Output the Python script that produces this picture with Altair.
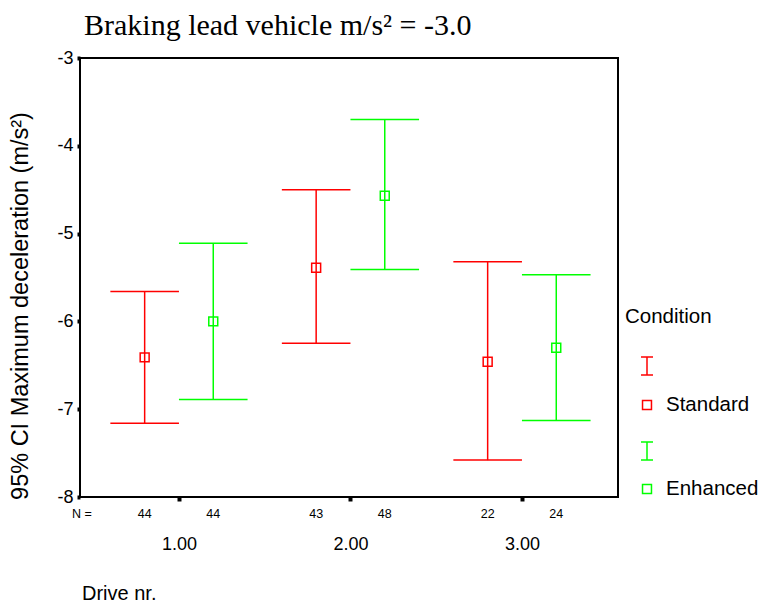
import altair as alt
import pandas as pd

# ---- data ----
drives = [1, 2, 3]
drive_labels = ["1.00", "2.00", "3.00"]
conditions = ["Standard", "Enhanced"]
colors = ["#ff0000", "#00ff00"]

std_mean = [-6.41, -5.39, -6.46]
std_low = [-7.16, -6.25, -7.58]
std_high = [-5.66, -4.50, -5.32]
std_n = [44, 43, 22]

enh_mean = [-6.00, -4.57, -6.30]
enh_low = [-6.89, -5.41, -7.13]
enh_high = [-5.11, -3.70, -5.47]
enh_n = [44, 48, 24]

y_ticks = [-8, -7, -6, -5, -4, -3]

# ---- build table ----
offset = {"Standard": -0.2, "Enhanced": 0.2}
half_cap = 0.2
rows = []
for cond, means, lows, highs, ns in [
    ("Standard", std_mean, std_low, std_high, std_n),
    ("Enhanced", enh_mean, enh_low, enh_high, enh_n),
]:
    for d, m, lo, hi, n in zip(drives, means, lows, highs, ns):
        xp = d + offset[cond]
        rows.append(dict(condition=cond, drive=d, mean=m, low=lo, high=hi,
                         n=str(n), xpos=xp, cl=xp - half_cap, cr=xp + half_cap))
df = pd.DataFrame(rows)

W, H = 538, 439
xscale = alt.Scale(domain=[0.423, 3.56], nice=False, zero=False)
yscale = alt.Scale(domain=[-8, -3], nice=False, zero=False)
cscale = alt.Scale(domain=conditions, range=colors)

base = alt.Chart(df)

x_axis = alt.Axis(values=drives, labelExpr="datum.value == 1 ? '1.00' : datum.value == 2 ? '2.00' : '3.00'",
                  title=None, grid=False, domain=False, tickColor="black", tickSize=4, tickWidth=4,
                  labelFontSize=18, labelFont="Liberation Sans", labelColor="black", labelPadding=34)
y_axis = alt.Axis(values=y_ticks, labelExpr="'' + datum.value", title=None, grid=False, domain=False,
                  tickColor="black", tickSize=3, tickWidth=4, labelFontSize=18,
                  labelFont="Liberation Sans", labelColor="black", labelPadding=4)

vbars = base.mark_rule(strokeWidth=1.5).encode(
    x=alt.X("xpos:Q", scale=xscale, axis=x_axis),
    y=alt.Y("low:Q", scale=yscale, axis=y_axis),
    y2="high:Q",
    color=alt.Color("condition:N", scale=cscale, legend=None),
)
cap_lo = base.mark_rule(strokeWidth=1.5).encode(
    x=alt.X("cl:Q", scale=xscale), x2="cr:Q",
    y=alt.Y("low:Q", scale=yscale),
    color=alt.Color("condition:N", scale=cscale, legend=None),
)
cap_hi = base.mark_rule(strokeWidth=1.5).encode(
    x=alt.X("cl:Q", scale=xscale), x2="cr:Q",
    y=alt.Y("high:Q", scale=yscale),
    color=alt.Color("condition:N", scale=cscale, legend=None),
)
pts = base.mark_point(shape="square", filled=False, size=80, strokeWidth=1.5, opacity=1).encode(
    x=alt.X("xpos:Q", scale=xscale),
    y=alt.Y("mean:Q", scale=yscale),
    color=alt.Color("condition:N", scale=cscale, legend=None),
)
nlabels = base.mark_text(fontSize=12.5, font="Liberation Sans", color="black", baseline="middle").encode(
    x=alt.X("xpos:Q", scale=xscale),
    y=alt.value(H + 17),
    text="n:N",
)

one = pd.DataFrame({"k": [0]})


def txt(s, x, y, size, font="Liberation Sans", align="left", baseline="alphabetic", angle=0):
    m = alt.Chart(one).mark_text(text=s, fontSize=size, font=font, align=align, baseline=baseline,
                                 color="black", angle=angle)
    return m.encode(x=alt.value(x), y=alt.value(y))


def vrule(x, y1, y2, color):
    return alt.Chart(one).mark_rule(color=color, strokeWidth=1.5).encode(
        x=alt.value(x), y=alt.value(y1), y2=alt.value(y2))


def hrule(x1, x2, y, color):
    return alt.Chart(one).mark_rule(color=color, strokeWidth=1.5).encode(
        x=alt.value(x1), x2=alt.value(x2), y=alt.value(y))


def sq(x, y, color):
    return alt.Chart(one).mark_point(shape="square", filled=False, size=80, strokeWidth=1.5,
                                     color=color, opacity=1).encode(x=alt.value(x), y=alt.value(y))


decor = [
    txt("Braking lead vehicle m/s² = -3.0", 4, -23, 30, font="Liberation Serif"),
    txt("95% CI Maximum deceleration (m/s²)", -59, 248, 23.5, align="center", baseline="middle", angle=270),
    txt("N =", 2, H + 17, 12.5, align="center", baseline="middle"),
    txt("Drive nr.", 2, 542, 20),
    txt("Condition", 545, 265, 20.5),
    vrule(567, 299, 317, colors[0]), hrule(561, 573, 299, colors[0]), hrule(561, 573, 317, colors[0]),
    sq(567, 347, colors[0]),
    txt("Standard", 586, 353, 20.5),
    vrule(567, 384, 402, colors[1]), hrule(561, 573, 384, colors[1]), hrule(561, 573, 402, colors[1]),
    sq(567, 431, colors[1]),
    txt("Enhanced", 586, 437, 20.5),
]

chart = alt.layer(vbars, cap_lo, cap_hi, pts, nlabels, *decor).properties(
    width=W, height=H,
    autosize=alt.AutoSizeParams(type="none"),
    padding={"left": 72, "top": 50, "right": 141, "bottom": 108},
    background="white",
).configure_view(stroke="black", strokeWidth=2)

chart.save("out.html", embed_options={"renderer": "svg", "actions": False})
